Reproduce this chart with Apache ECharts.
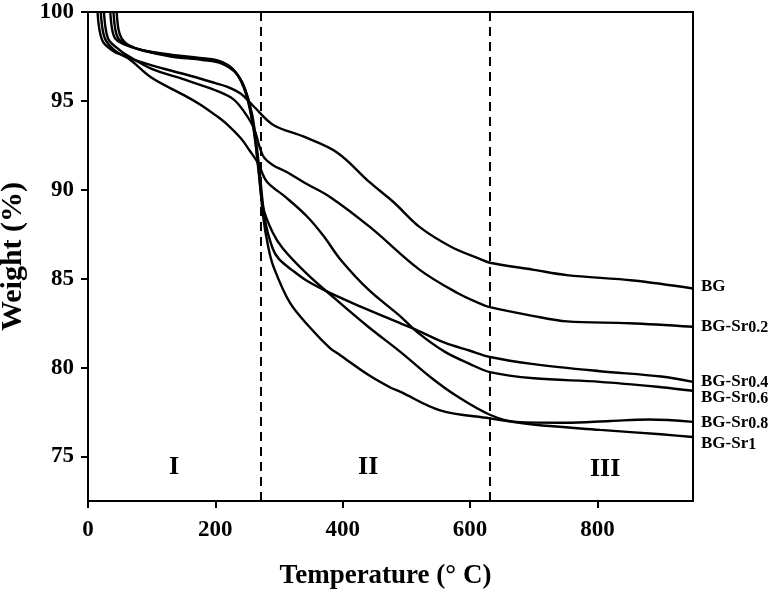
<!DOCTYPE html>
<html>
<head>
<meta charset="utf-8">
<script src="https://cdn.jsdelivr.net/npm/echarts@6/dist/echarts.min.js"></script>
<style>
html,body{margin:0;padding:0;background:#fff;}
#chart{width:774px;height:594px;}
</style>
</head>
<body>
<div id="chart"></div>
<script>
// ---- data ----
var seriesNames = ['BG', 'BG-Sr0.2', 'BG-Sr0.4', 'BG-Sr0.6', 'BG-Sr0.8', 'BG-Sr1'];
var seriesMain = ['BG', 'BG-Sr', 'BG-Sr', 'BG-Sr', 'BG-Sr', 'BG-Sr'];
var seriesSub = ['', '0.2', '0.4', '0.6', '0.8', '1'];

var bgT = [20, 23, 28, 40, 58, 100, 152, 200, 218, 240, 260, 291, 338, 391, 443, 480, 521, 570, 616, 631, 700, 752, 856, 950];
var bgW = [100, 99.0, 98.4, 97.9, 97.5, 97.0, 96.5, 96.0, 95.8, 95.4, 94.7, 93.65, 93.0, 92.1, 90.4, 89.3, 87.9, 86.8, 86.1, 85.9, 85.5, 85.2, 84.9, 84.45];

var sr02T = [25, 28, 33, 45, 60, 100, 152, 176, 200, 228, 245, 260, 275, 290, 312, 340, 380, 443, 521, 580, 616, 631, 700, 752, 850, 950];
var sr02W = [100, 99.0, 98.4, 98.0, 97.6, 96.8, 96.2, 95.9, 95.6, 95.1, 94.4, 93.5, 91.9, 91.4, 91.0, 90.4, 89.6, 87.9, 85.5, 84.2, 83.6, 83.4, 82.9, 82.6, 82.5, 82.3];

var sr04T = [35, 38, 43, 55, 80, 130, 180, 210, 230, 245, 258, 268, 278, 290, 300, 320, 343, 380, 430, 490, 517, 560, 600, 631, 700, 804, 900, 950];
var sr04W = [100, 99.0, 98.5, 98.2, 97.9, 97.6, 97.4, 97.2, 96.7, 95.8, 94.2, 91.5, 88.3, 86.7, 86.1, 85.5, 84.9, 84.2, 83.4, 82.5, 82.1, 81.4, 80.95, 80.6, 80.2, 79.8, 79.5, 79.2];

var sr06T = [15, 18, 24, 40, 63, 100, 152, 176, 200, 218, 240, 254, 267, 281, 310, 344, 370, 396, 440, 490, 517, 560, 600, 631, 700, 804, 900, 950];
var sr06W = [100, 99.0, 98.3, 97.8, 97.4, 96.3, 95.3, 94.8, 94.2, 93.7, 92.9, 92.2, 91.5, 90.45, 89.6, 88.5, 87.4, 86.1, 84.4, 82.9, 82.0, 80.9, 80.2, 79.75, 79.4, 79.2, 78.9, 78.7];

var sr08T = [40, 43, 48, 60, 85, 130, 180, 210, 232, 248, 260, 268, 275, 290, 306, 343, 384, 440, 490, 540, 579, 631, 672, 750, 820, 881, 950];
var sr08W = [100, 99.0, 98.5, 98.2, 97.85, 97.55, 97.35, 97.15, 96.6, 95.4, 93.4, 91.0, 89.0, 87.6, 86.7, 85.3, 84.0, 82.3, 80.9, 79.4, 78.4, 77.35, 76.95, 76.9, 77.0, 77.08, 76.95];

var sr1T = [45, 48, 53, 65, 90, 130, 180, 210, 234, 250, 262, 270, 275, 283, 291, 317, 350, 380, 396, 440, 474, 490, 553, 631, 699, 804, 900, 950];
var sr1W = [100, 99.0, 98.5, 98.1, 97.8, 97.5, 97.3, 97.1, 96.5, 95.3, 93.0, 90.4, 88.5, 86.8, 85.7, 83.65, 82.2, 81.1, 80.7, 79.6, 78.9, 78.65, 77.6, 77.15, 76.8, 76.5, 76.25, 76.1];

var allT = [bgT, sr02T, sr04T, sr06T, sr08T, sr1T];
var allW = [bgW, sr02W, sr04W, sr06W, sr08W, sr1W];

var xTicks = [0, 200, 400, 600, 800];
var yTicks = [75, 80, 85, 90, 95, 100];
var dividerT = [271, 631];
var regionNames = ['I', 'II', 'III'];
var regionT = [135, 440, 812];
var regionW = [74.4, 74.4, 74.3];

// ---- styles ----
var FONT = '"Liberation Serif", "Times New Roman", serif';
var labelOffsets = [[0, -1], [0, 0], [0, 0], [0, 7], [0, 1], [0, 7]];

function pairs(t, w) {
  var out = [];
  for (var i = 0; i < t.length; i++) out.push([t[i], w[i]]);
  return out;
}

var series = seriesNames.map(function (name, i) {
  var s = {
    name: name,
    type: 'line',
    data: pairs(allT[i], allW[i]),
    showSymbol: false,
    smooth: 0.35,
    lineStyle: { color: '#000', width: 2.4 },
    endLabel: {
      show: true,
      distance: 8,
      offset: labelOffsets[i],
      formatter: seriesSub[i] ? '{m|' + seriesMain[i] + '}{s|' + seriesSub[i] + '}' : '{m|' + seriesMain[i] + '}',
      rich: {
        m: { fontFamily: FONT, fontWeight: 'bold', fontSize: 17, color: '#000', lineHeight: 18, verticalAlign: 'top' },
        s: { fontFamily: FONT, fontWeight: 'bold', fontSize: 16, color: '#000', lineHeight: 18, verticalAlign: 'bottom', padding: [9, 0, 0, 0] }
      }
    }
  };
  if (i === 0) {
    s.markLine = {
      silent: true,
      symbol: 'none',
      label: { show: false },
      lineStyle: { color: '#000', width: 2, type: [9, 6] },
      data: dividerT.map(function (v) { return { xAxis: v }; })
    };
  }
  return s;
});

series.push({
  type: 'scatter',
  symbolSize: 1,
  silent: true,
  itemStyle: { opacity: 0 },
  data: regionNames.map(function (n, i) { return { value: [regionT[i], regionW[i]], name: n }; }),
  label: {
    show: true,
    position: 'inside',
    opacity: 1,
    formatter: function (p) { return p.name; },
    fontFamily: FONT,
    fontWeight: 'bold',
    fontSize: 26,
    color: '#000'
  }
});

var chart = echarts.init(document.getElementById('chart'), null, { renderer: 'canvas' });
chart.setOption({
  animation: false,
  backgroundColor: '#fff',
  grid: { left: 88, right: 81, top: 12, bottom: 93, containLabel: false, outerBoundsMode: 'none', show: true, borderColor: '#000', borderWidth: 2, backgroundColor: 'transparent' },
  xAxis: {
    type: 'value',
    min: 0,
    max: 950,
    name: 'Temperature (° C)',
    nameLocation: 'middle',
    nameGap: 62,
    nameTextStyle: { fontFamily: FONT, fontWeight: 'bold', fontSize: 27, color: '#000', padding: [0, 10, 0, 0] },
    axisLine: { onZero: false, lineStyle: { color: '#000', width: 2 } },
    axisTick: { show: true, inside: false, length: 7, customValues: xTicks, lineStyle: { color: '#000', width: 2 } },
    axisLabel: { customValues: xTicks, fontFamily: FONT, fontWeight: 'bold', fontSize: 23, color: '#000', margin: 18 },
    splitLine: { show: false }
  },
  yAxis: {
    type: 'value',
    min: 72.5,
    max: 100,
    name: 'Weight (%)',
    nameLocation: 'middle',
    nameGap: 56,
    nameTextStyle: { fontFamily: FONT, fontWeight: 'bold', fontSize: 30, color: '#000' },
    axisLine: { onZero: false, lineStyle: { color: '#000', width: 2 } },
    axisTick: { show: true, inside: false, length: 7, customValues: yTicks, lineStyle: { color: '#000', width: 2 } },
    axisLabel: { customValues: yTicks, fontFamily: FONT, fontWeight: 'bold', fontSize: 23, color: '#000', margin: 14 },
    splitLine: { show: false }
  },
  series: series
});
</script>
</body>
</html>
